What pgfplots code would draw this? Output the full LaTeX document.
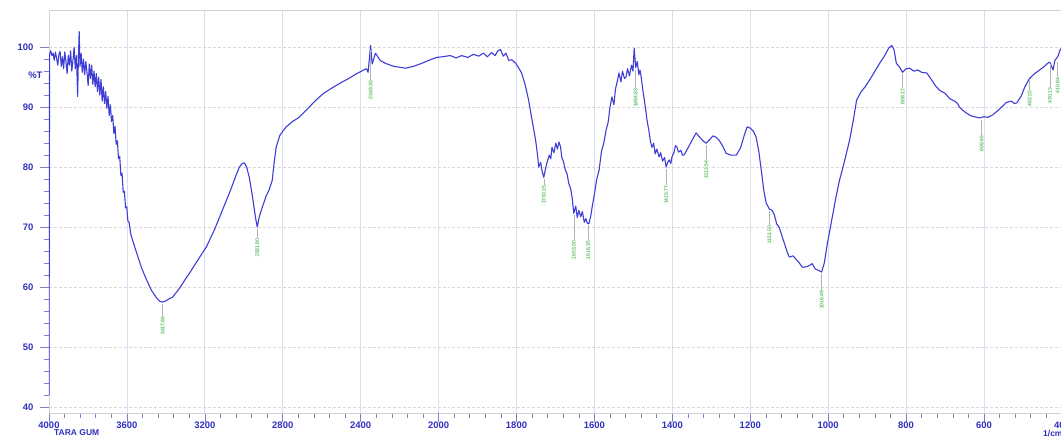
\documentclass[border=0pt]{standalone}
\usepackage{fontspec}
\setmainfont{Liberation Sans}
\usepackage{pgfplots}
\pgfplotsset{compat=1.18}

\definecolor{specblue}{RGB}{62,62,215}
\definecolor{lblblue}{RGB}{48,48,190}
\definecolor{peakgreen}{RGB}{70,150,80}
\definecolor{gridv}{RGB}{220,220,244}
\definecolor{gridh}{RGB}{222,212,222}
\definecolor{divider}{RGB}{95,95,205}

% peak marker: leader line from #2 down to #3 at wavenumber #1, value #4 printed vertically
\newcommand{\peak}[4]{%
  \addplot[gray!60, line width=0.5bp] coordinates {(#1,#2) (#1,#3)}
    node[pos=1, rotate=90, anchor=east, inner sep=0.6bp, fill=green!7,
         text=peakgreen, font=\fontsize{5}{5}\selectfont] {#4};
}

\begin{document}
\begin{tikzpicture}
\begin{axis}[
  at={(0,0)}, anchor=south west,
  scale only axis, width=1013bp, height=403bp,
  % 4000-2000 1/cm at half the scale of 2000-400 1/cm
  x coord trafo/.code={\pgfmathparse{#1>1999.99 ? 4000-#1 : 6000-2*#1}},
  x coord inv trafo/.code={\pgfmathparse{#1<2000.01 ? 4000-#1 : 3000-0.5*#1}},
  xmin=4000, xmax=400,
  ymin=39, ymax=106.2,
  xtick={4000,3600,3200,2800,2400,2000,1800,1600,1400,1200,1000,800,600,400},
  xticklabels={4000,3600,3200,2800,2400,2000,1800,1600,1400,1200,1000,800,600,400},
  ytick={40,50,60,70,80,90,100},
  yticklabels={40,50,60,70,80,90,100},
  extra y ticks={95.4}, extra y tick labels={\%T},
  extra y tick style={grid=none, major tick length=0pt},
  extra x ticks={2000}, extra x tick labels={},
  extra x tick style={grid=major, major grid style={divider, solid, line width=0.9bp}},
  minor x tick num=4, minor y tick num=4,
  tick pos=left, tick align=outside,
  major tick length=9bp, minor tick length=5bp,
  every tick/.style={draw=blue!45!gray!70, line width=0.6bp},
  grid=major,
  x grid style={gridv, line width=0.7bp},
  y grid style={gridh, densely dashed, line width=0.7bp},
  axis line style={draw=gray!35, line width=0.7bp},
  tick label style={font=\fontsize{9.5}{10}\selectfont\bfseries, text=lblblue},
  xticklabel style={yshift=4bp},
  yticklabel style={xshift=-3bp},
  clip=true,
]
\addplot[specblue, line width=1.1bp, line join=round] table[row sep=\\] {
4000 42.0 \\ 3997 98.8 \\ 3991 99.4 \\ 3985 98.6 \\ 3979 99.0 \\ 3973 97.8 \\
3967 99.2 \\ 3961 98.2 \\ 3955 97.0 \\ 3949 98.8 \\ 3943 99.3 \\ 3937 96.8 \\
3931 98.4 \\ 3925 96.4 \\ 3919 99.2 \\ 3913 97.6 \\ 3907 95.6 \\ 3901 98.6 \\
3895 97.0 \\ 3889 99.4 \\ 3883 96.0 \\ 3877 97.8 \\ 3871 100.0 \\ 3865 96.4 \\
3859 98.6 \\ 3853 91.8 \\ 3849 98.2 \\ 3845 102.6 \\ 3841 96.8 \\ 3835 99.0 \\
3829 95.8 \\ 3823 98.0 \\ 3817 95.4 \\ 3811 97.6 \\ 3805 95.8 \\ 3799 93.6 \\
3793 97.2 \\ 3787 94.8 \\ 3781 97.0 \\ 3775 93.8 \\ 3769 96.0 \\ 3763 93.4 \\
3757 95.6 \\ 3751 92.6 \\ 3745 95.0 \\ 3739 92.0 \\ 3733 94.6 \\ 3727 91.0 \\
3721 93.4 \\ 3715 90.6 \\ 3709 92.6 \\ 3703 89.8 \\ 3697 91.8 \\ 3691 88.6 \\
3685 90.4 \\ 3679 87.6 \\ 3673 88.6 \\ 3667 85.6 \\ 3661 86.8 \\ 3655 83.8 \\
3649 84.4 \\ 3643 81.4 \\ 3637 81.8 \\ 3631 78.6 \\ 3625 79.0 \\ 3619 75.8 \\
3613 76.0 \\ 3607 73.2 \\ 3601 73.4 \\ 3595 71.0 \\ 3589 70.8 \\ 3580 68.8 \\
3565 67.2 \\ 3550 65.7 \\ 3525 63.2 \\ 3499 61.2 \\ 3475 59.5 \\ 3448 58.2 \\
3430 57.6 \\ 3417 57.5 \\ 3400 57.7 \\ 3385 58.0 \\ 3366 58.3 \\ 3330 59.8 \\
3300 61.3 \\ 3279 62.3 \\ 3240 64.3 \\ 3192 66.7 \\ 3150 69.6 \\ 3110 72.8 \\
3070 76.0 \\ 3040 78.6 \\ 3023 80.0 \\ 3008 80.6 \\ 2997 80.7 \\ 2985 80.0 \\
2972 78.3 \\ 2955 75.0 \\ 2940 71.6 \\ 2931 70.0 \\ 2920 71.8 \\ 2905 73.3 \\
2885 75.2 \\ 2870 76.2 \\ 2854 77.8 \\ 2845 80.5 \\ 2834 83.3 \\ 2815 85.3 \\
2783 86.7 \\ 2750 87.6 \\ 2716 88.3 \\ 2670 89.8 \\ 2629 91.2 \\ 2590 92.3 \\
2547 93.2 \\ 2500 94.1 \\ 2460 94.8 \\ 2420 95.6 \\ 2384 96.2 \\ 2370 96.4 \\
2362 95.8 \\ 2349 100.3 \\ 2341 97.2 \\ 2324 99.0 \\ 2300 97.8 \\ 2273 97.3 \\
2230 96.8 \\ 2169 96.5 \\ 2130 96.8 \\ 2087 97.3 \\ 2050 97.8 \\ 2010 98.3 \\
1990 98.4 \\ 1970 98.6 \\ 1955 98.2 \\ 1941 98.6 \\ 1925 98.3 \\ 1910 98.8 \\
1897 98.5 \\ 1885 99.0 \\ 1875 98.4 \\ 1864 99.1 \\ 1855 98.6 \\ 1848 99.4 \\
1841 99.6 \\ 1834 98.5 \\ 1827 99.0 \\ 1820 97.8 \\ 1812 97.9 \\ 1802 97.3 \\
1795 96.6 \\ 1787 95.7 \\ 1778 93.8 \\ 1769 91.2 \\ 1760 87.8 \\ 1751 84.5 \\
1746 82.0 \\ 1743 80.0 \\ 1738 80.8 \\ 1734 79.2 \\ 1730 78.3 \\ 1726 79.6 \\
1722 80.7 \\ 1716 82.0 \\ 1712 81.4 \\ 1709 83.3 \\ 1704 82.4 \\ 1699 84.0 \\
1695 83.0 \\ 1691 84.2 \\ 1687 83.4 \\ 1684 81.7 \\ 1679 80.8 \\ 1675 79.6 \\
1670 78.8 \\ 1666 77.3 \\ 1661 76.4 \\ 1657 74.8 \\ 1653 72.3 \\ 1648 73.5 \\
1644 71.6 \\ 1640 72.8 \\ 1635 71.7 \\ 1631 72.6 \\ 1626 70.8 \\ 1622 71.4 \\
1618 70.6 \\ 1614 70.6 \\ 1609 72.0 \\ 1606 73.3 \\ 1600 75.5 \\ 1594 78.0 \\
1588 79.5 \\ 1582 82.6 \\ 1576 84.0 \\ 1570 86.2 \\ 1565 87.4 \\ 1560 90.0 \\
1555 91.7 \\ 1550 90.4 \\ 1546 93.0 \\ 1541 94.4 \\ 1537 95.7 \\ 1532 94.2 \\
1528 96.0 \\ 1523 94.8 \\ 1519 95.0 \\ 1515 96.4 \\ 1510 95.2 \\ 1505 97.0 \\
1501 96.0 \\ 1498 99.8 \\ 1494 96.6 \\ 1490 97.6 \\ 1486 95.4 \\ 1483 96.2 \\
1480 95.0 \\ 1476 93.0 \\ 1472 91.2 \\ 1468 89.4 \\ 1465 87.8 \\ 1460 86.0 \\
1456 84.2 \\ 1452 83.3 \\ 1448 84.0 \\ 1444 82.2 \\ 1440 83.0 \\ 1434 81.7 \\
1430 82.4 \\ 1425 81.0 \\ 1420 81.6 \\ 1416 80.0 \\ 1412 80.8 \\ 1408 81.2 \\
1404 80.6 \\ 1401 81.7 \\ 1396 82.4 \\ 1392 83.6 \\ 1388 83.3 \\ 1384 82.5 \\
1378 82.8 \\ 1374 82.0 \\ 1370 82.0 \\ 1360 83.2 \\ 1350 84.4 \\ 1339 85.7 \\
1330 85.0 \\ 1320 84.3 \\ 1313 84.0 \\ 1305 84.5 \\ 1296 85.2 \\ 1288 85.0 \\
1280 84.5 \\ 1270 83.4 \\ 1262 82.3 \\ 1250 82.0 \\ 1236 82.0 \\ 1225 83.2 \\
1215 85.4 \\ 1208 86.7 \\ 1200 86.5 \\ 1192 86.0 \\ 1185 85.0 \\ 1178 82.6 \\
1170 78.6 \\ 1165 76.0 \\ 1159 74.0 \\ 1151 73.0 \\ 1144 72.8 \\ 1138 72.0 \\
1132 70.5 \\ 1126 70.0 \\ 1115 67.8 \\ 1105 65.8 \\ 1100 65.0 \\ 1090 65.2 \\
1082 64.6 \\ 1074 64.0 \\ 1066 63.3 \\ 1055 63.4 \\ 1048 63.6 \\ 1041 63.9 \\
1033 63.0 \\ 1025 62.8 \\ 1017 62.5 \\ 1010 64.0 \\ 1002 67.3 \\ 990 71.5 \\
980 75.0 \\ 971 77.8 \\ 960 80.5 \\ 945 84.5 \\ 935 88.0 \\ 927 91.2 \\
915 92.6 \\ 905 93.4 \\ 894 94.5 \\ 880 96.0 \\ 868 97.3 \\ 855 98.6 \\
845 99.8 \\ 837 100.3 \\ 831 99.6 \\ 825 97.3 \\ 817 96.7 \\ 809 95.8 \\
800 96.4 \\ 791 96.5 \\ 780 96.0 \\ 770 96.2 \\ 760 95.8 \\ 747 95.7 \\
735 94.6 \\ 725 93.6 \\ 714 92.8 \\ 700 92.3 \\ 688 91.4 \\ 675 91.0 \\
668 90.6 \\ 663 90.0 \\ 655 89.5 \\ 645 89.0 \\ 635 88.6 \\ 625 88.4 \\
611 88.2 \\ 600 88.4 \\ 590 88.3 \\ 578 88.7 \\ 565 89.4 \\ 555 90.0 \\
542 90.8 \\ 530 91.0 \\ 522 90.6 \\ 516 90.7 \\ 505 91.8 \\ 495 93.4 \\
483 94.8 \\ 470 95.6 \\ 457 96.2 \\ 445 96.8 \\ 435 97.4 \\ 431 97.5 \\
423 96.2 \\ 418 97.8 \\ 410 98.5 \\ 405 99.5 \\ 400 100.0 \\
};

% peak annotations
\peak{3417}{57.1}{55.2}{3417.86}
\peak{2931}{69.6}{68.2}{2931.80}
\peak{2349}{99.6}{94.5}{2349.30}
\peak{1730}{78.0}{77.0}{1730.15}
\peak{1653}{72.0}{67.8}{1653.00}
\peak{1616}{70.3}{67.8}{1616.35}
\peak{1494}{96.2}{93.2}{1494.83}
\peak{1416}{79.7}{77.0}{1415.77}
\peak{1313}{83.7}{81.2}{1313.54}
\peak{1151}{72.7}{70.3}{1151.50}
\peak{1017}{62.2}{59.5}{1016.49}
\peak{809}{95.5}{93.2}{808.17}
\peak{606}{87.8}{85.3}{605.65}
\peak{483}{94.5}{92.8}{482.20}
\peak{431}{97.2}{93.3}{430.13}
\peak{411}{97.5}{95.0}{410.84}
\end{axis}

% sample name and unit under the axis
\node[anchor=west, inner sep=0pt, font=\fontsize{8.5}{9}\selectfont\bfseries, text=lblblue]
  at (5bp,-19.5bp) {TARA GUM};
\node[anchor=west, inner sep=0pt, font=\fontsize{8.5}{9}\selectfont\bfseries, text=lblblue]
  at (994bp,-20.5bp) {1/cm};

\pgfresetboundingbox
\path[use as bounding box] (-49bp,-24bp) rectangle (1012bp,413bp);
\end{tikzpicture}
\end{document}
